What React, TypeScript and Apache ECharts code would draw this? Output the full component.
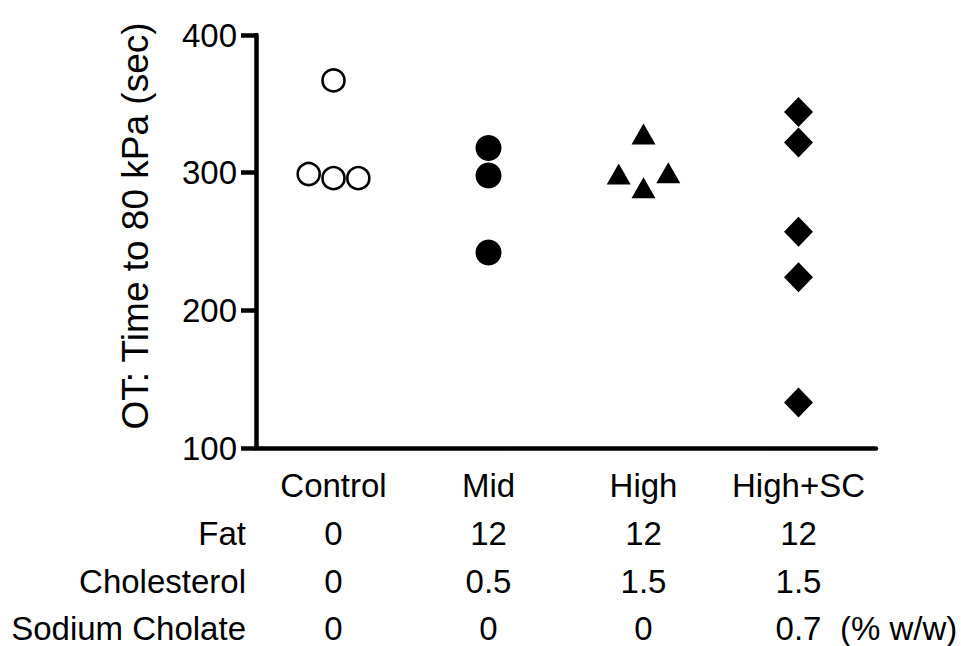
import React, { useEffect, useRef } from "react";
import * as echarts from "echarts";

const categories = ["Control", "Mid", "High", "High+SC"];
const fatRow = ["0", "12", "12", "12"];
const cholesterolRow = ["0", "0.5", "1.5", "1.5"];
const cholateRow = ["0", "0", "0", "0.7"];
const rowNames = ["Fat", "Cholesterol", "Sodium Cholate"];
const unitsText = "(% w/w)";
const yTitle = "OT: Time to 80 kPa (sec)";

const controlX = [0, -0.16, 0, 0.16];
const controlY = [367, 299, 296, 296];
const midX = [1, 1, 1];
const midY = [318, 298, 242];
const highX = [2, 1.84, 2, 2.16];
const highY = [328, 299, 289, 300];
const highScX = [3, 3, 3, 3, 3];
const highScY = [344, 322, 257, 224, 133];

const FONT = "'Liberation Sans', Arial, Helvetica, sans-serif";
const INK = "#000";
const FS = 33;
const LW = 4.5;

function pairs(xs: number[], ys: number[]) {
  return xs.map((x, i) => [x, ys[i]]);
}

export default function App() {
  const ref = useRef<HTMLDivElement>(null);
  useEffect(() => {
    if (!ref.current) return;
    const chart = echarts.init(ref.current, null, { renderer: "svg" });
    const tableAxis = (data: string[], offset: number, name: string) => ({
      type: "category",
      data,
      position: "bottom",
      offset,
      boundaryGap: true,
      axisLine: { show: false, onZero: false },
      axisTick: { show: false },
      axisLabel: {
        interval: 0,
        margin: 0,
        verticalAlign: "middle",
        fontSize: FS,
        color: INK,
        fontFamily: FONT,
      },
      name,
      nameLocation: "start",
      nameGap: 10,
      nameTextStyle: { fontSize: FS, color: INK, fontFamily: FONT, verticalAlign: "middle" },
    });
    chart.setOption({
      animation: false,
      backgroundColor: "#fff",
      grid: { left: 256, right: 85, top: 35, bottom: 198, containLabel: false },
      xAxis: [
        {
          type: "category",
          data: categories,
          position: "bottom",
          boundaryGap: true,
          axisLine: { onZero: false, lineStyle: { color: INK, width: LW } },
          axisTick: { alignWithLabel: true, length: 14, lineStyle: { color: INK, width: LW } },
          axisLabel: { interval: 0, margin: 37, verticalAlign: "middle", fontSize: FS, color: INK, fontFamily: FONT },
          splitLine: { show: false },
        },
        tableAxis(fatRow, 85, rowNames[0]),
        tableAxis(cholesterolRow, 133, rowNames[1]),
        tableAxis(cholateRow, 180, rowNames[2]),
        { type: "value", min: -0.5, max: 3.5, show: false, axisLine: { onZero: false } },
      ],
      yAxis: {
        type: "value",
        min: 100,
        max: 400,
        interval: 100,
        axisLine: { show: true, onZero: false, lineStyle: { color: INK, width: LW } },
        axisTick: { show: true, length: 15, lineStyle: { color: INK, width: LW } },
        axisLabel: { margin: 19, fontSize: FS, color: INK, fontFamily: FONT },
        splitLine: { show: false },
      },
      graphic: [
        {
          type: "text",
          x: 135,
          y: 226,
          rotation: Math.PI / 2,
          style: { text: yTitle, fontSize: 37, fontFamily: FONT, fill: INK, align: "center", verticalAlign: "middle" },
        },
        {
          type: "text",
          x: 840,
          y: 628,
          style: { text: unitsText, fontSize: FS, fontFamily: FONT, fill: INK, align: "left", verticalAlign: "middle" },
        },
      ],
      series: [
        {
          type: "scatter",
          xAxisIndex: 4,
          data: pairs(controlX, controlY),
          symbol: "circle",
          symbolSize: 22,
          itemStyle: { color: "#fff", borderColor: INK, borderWidth: 2.6, opacity: 1 },
        },
        {
          type: "scatter",
          xAxisIndex: 4,
          data: pairs(midX, midY),
          symbol: "circle",
          symbolSize: 26,
          itemStyle: { color: INK, opacity: 1 },
        },
        {
          type: "scatter",
          xAxisIndex: 4,
          data: pairs(highX, highY),
          symbol: "triangle",
          symbolSize: [24, 21],
          itemStyle: { color: INK, opacity: 1 },
        },
        {
          type: "scatter",
          xAxisIndex: 4,
          data: pairs(highScX, highScY),
          symbol: "diamond",
          symbolSize: [29, 30],
          itemStyle: { color: INK, opacity: 1 },
        },
      ],
    });
    return () => chart.dispose();
  }, []);
  return (
    <div
      ref={ref}
      style={{ position: "fixed", left: 0, top: 0, width: 961, height: 646, background: "#fff" }}
    />
  );
}
